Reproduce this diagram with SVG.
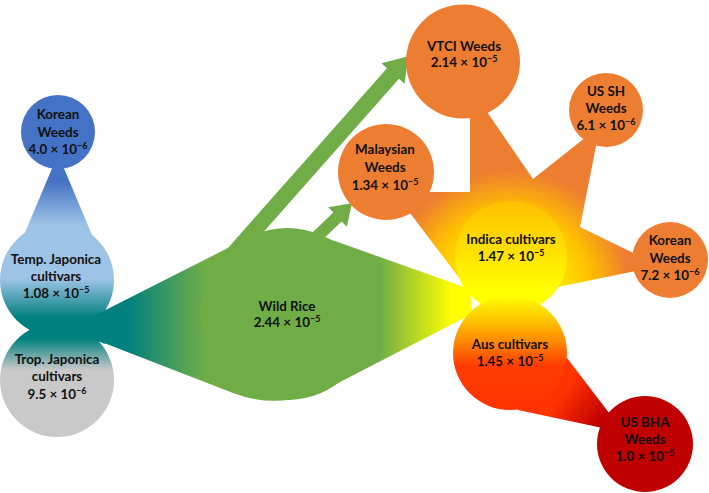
<svg xmlns="http://www.w3.org/2000/svg" width="709" height="493" viewBox="0 0 709 493">
<style>
.t{font-family:Lato,"Open Sans","Liberation Sans",sans-serif;font-weight:700;font-size:13.4px;fill:#111;text-anchor:middle}
.s{font-size:9px}
.or{fill:#ED7D31}
.gr{fill:#70AD47}
</style>
<defs>
<linearGradient id="gL" gradientUnits="userSpaceOnUse" x1="0" y1="90" x2="0" y2="440">
<stop offset="0" stop-color="#4472C4"/>
<stop offset="0.26" stop-color="#4472C4"/>
<stop offset="0.386" stop-color="#9DC3E6"/>
<stop offset="0.54" stop-color="#9DC3E6"/>
<stop offset="0.65" stop-color="#00807E"/>
<stop offset="0.71" stop-color="#00807E"/>
<stop offset="0.80" stop-color="#C9C9C9"/>
<stop offset="1" stop-color="#C9C9C9"/>
</linearGradient>
<linearGradient id="gD" gradientUnits="userSpaceOnUse" x1="60" y1="0" x2="475" y2="0">
<stop offset="0" stop-color="#00807E"/>
<stop offset="0.16" stop-color="#00807E"/>
<stop offset="0.35" stop-color="#70AD47"/>
<stop offset="0.77" stop-color="#70AD47"/>
<stop offset="0.945" stop-color="#FFFF00"/>
<stop offset="1" stop-color="#FFFF00"/>
</linearGradient>
<radialGradient id="gS" gradientUnits="userSpaceOnUse" cx="510" cy="290" r="150">
<stop offset="0" stop-color="#FFFF00"/>
<stop offset="0.25" stop-color="#FFF200"/>
<stop offset="0.54" stop-color="#FFC000"/>
<stop offset="0.8" stop-color="#ED7D31"/>
<stop offset="1" stop-color="#ED7D31"/>
</radialGradient>
<linearGradient id="gI" gradientUnits="userSpaceOnUse" x1="0" y1="201" x2="0" y2="300">
<stop offset="0" stop-color="#FFC000"/>
<stop offset="0.5" stop-color="#FFE000"/>
<stop offset="0.9" stop-color="#FFFF00"/>
</linearGradient>
<linearGradient id="gA" gradientUnits="userSpaceOnUse" x1="0" y1="296" x2="0" y2="410">
<stop offset="0" stop-color="#FFFF00"/>
<stop offset="0.2" stop-color="#FFC800"/>
<stop offset="0.39" stop-color="#FF8C00"/>
<stop offset="0.61" stop-color="#FF3C00"/>
<stop offset="1" stop-color="#FF3300"/>
</linearGradient>
<linearGradient id="gW" gradientUnits="userSpaceOnUse" x1="565" y1="390" x2="603" y2="418">
<stop offset="0" stop-color="#FF3300"/>
<stop offset="1" stop-color="#C00000"/>
</linearGradient>
</defs>

<g id="connectors">
<polygon id="arrow-vtci" class="gr" points="221.3,255.5 387,68.2 381.4,63.2 408.2,56.3 404.6,83.8 399,78.8 233.3,266.1"/>
<polygon id="arrow-malaysian" class="gr" points="300.8,243.6 333.4,212.6 328.2,207.2 352,203.2 346.8,226.8 341.6,221.4 309,252.4"/>
<polygon id="taper-korean-temp" fill="url(#gL)" points="53,166 63,166 92,235 24,235"/>
<path id="wild-rice-body" fill="url(#gD)" d="M68,329 L226,249 Q279,221 332,240 L470,289 L472,314 L340,382 Q285,413 233,393 Z"/>
<path id="indica-star" fill="url(#gS)" d="M400,195 L425,192 L470,192 L470,108 L483,106 L533,179 L600,126 L580,227 L660,266 L553,288 L515,300 L463,283 L410,213 Z"/>
<polygon id="wedge-aus-bha" fill="url(#gW)" points="530,380 567,358 616,422 612,430 518,410"/>
</g>

<g id="korean-weeds-left">
<circle cx="58" cy="132" r="37" fill="url(#gL)"/>
<text class="t" x="58" y="119">Korean</text>
<text class="t" x="58" y="137">Weeds</text>
<text class="t" x="58" y="154">4.0 × 10<tspan class="s" dy="-5.5">−6</tspan></text>
</g>

<g id="temp-japonica">
<circle cx="57" cy="280" r="57" fill="url(#gL)"/>
</g>
<g id="trop-japonica">
<circle cx="57" cy="380" r="57" fill="url(#gL)"/>
</g>
<path d="M68,329 L105,310.5 L105,344 Z" fill="url(#gD)"/>
<g id="temp-japonica-label">
<text class="t" x="56" y="264">Temp. Japonica</text>
<text class="t" x="56" y="281">cultivars</text>
<text class="t" x="56" y="298">1.08 × 10<tspan class="s" dy="-5.5">−5</tspan></text>
</g>
<g id="trop-japonica-label">
<text class="t" x="57" y="364">Trop. Japonica</text>
<text class="t" x="57" y="381">cultivars</text>
<text class="t" x="57" y="399">9.5 × 10<tspan class="s" dy="-5.5">−6</tspan></text>
</g>

<g id="wild-rice">
<circle cx="287" cy="314" r="86" class="gr"/>
<text class="t" x="287" y="311">Wild Rice</text>
<text class="t" x="287" y="327">2.44 × 10<tspan class="s" dy="-5.5">−5</tspan></text>
</g>

<g id="indica">
<circle cx="511" cy="257" r="56" fill="url(#gI)"/>
</g>

<g id="aus">
<circle cx="510" cy="353" r="57" fill="url(#gA)"/>
<text class="t" x="510" y="349">Aus cultivars</text>
<text class="t" x="510" y="366">1.45 × 10<tspan class="s" dy="-5.5">−5</tspan></text>
</g>

<g id="indica-label">
<text class="t" x="511" y="244">Indica cultivars</text>
<text class="t" x="511" y="261">1.47 × 10<tspan class="s" dy="-5.5">−5</tspan></text>
</g>

<g id="vtci-weeds">
<circle cx="463" cy="61.5" r="57" class="or"/>
<text class="t" x="464" y="51">VTCI Weeds</text>
<text class="t" x="464" y="67">2.14 × 10<tspan class="s" dy="-5.5">−5</tspan></text>
</g>

<g id="malaysian-weeds">
<circle cx="386" cy="172" r="48" class="or"/>
<text class="t" x="385" y="154">Malaysian</text>
<text class="t" x="385" y="172">Weeds</text>
<text class="t" x="385" y="190">1.34 × 10<tspan class="s" dy="-5.5">−5</tspan></text>
</g>

<g id="us-sh-weeds">
<circle cx="606" cy="110" r="37" class="or"/>
<text class="t" x="606" y="96">US SH</text>
<text class="t" x="606" y="113">Weeds</text>
<text class="t" x="606" y="130">6.1 × 10<tspan class="s" dy="-5.5">−6</tspan></text>
</g>

<g id="korean-weeds-right">
<circle cx="670" cy="260" r="38" class="or"/>
<text class="t" x="670" y="245">Korean</text>
<text class="t" x="670" y="263">Weeds</text>
<text class="t" x="670" y="280">7.2 × 10<tspan class="s" dy="-5.5">−6</tspan></text>
</g>

<g id="us-bha-weeds">
<circle cx="645" cy="444" r="48" fill="#C00000"/>
<text class="t" x="645" y="427">US BHA</text>
<text class="t" x="645" y="444">Weeds</text>
<text class="t" x="645" y="461">1.0 × 10<tspan class="s" dy="-5.5">−5</tspan></text>
</g>
</svg>
